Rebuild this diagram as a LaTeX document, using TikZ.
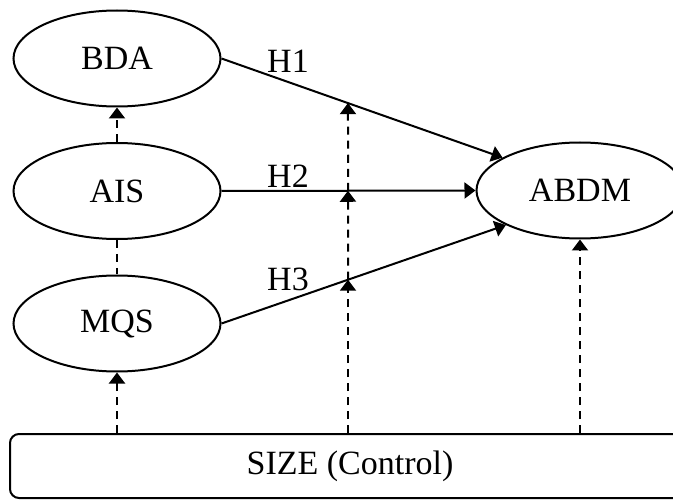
\documentclass[tikz,border=0pt]{standalone}
\usepackage{fontspec}
\setmainfont{Liberation Serif}
\usetikzlibrary{arrows.meta,shapes.geometric,intersections,calc}
\begin{document}
\begin{tikzpicture}[x=1pt,y=-1pt,
  every node/.style={font=\fontsize{34}{40}\selectfont},
  var/.style={draw,ellipse,line width=2pt,inner sep=0pt,minimum width=207pt,minimum height=96pt},
  ctrl/.style={draw,rectangle,rounded corners=9pt,line width=2pt,minimum width=680pt,minimum height=64pt,inner sep=0pt},
  solidarrow/.style={line width=2pt,-{Triangle[length=11pt,width=16pt]}},
  dasharrow/.style={line width=2pt,dash pattern=on 8pt off 6pt,-{Triangle[length=11pt,width=16pt]}},
  dashline/.style={line width=2pt,dash pattern=on 8pt off 6pt},
  hlabel/.style={inner sep=0pt}]
\clip (0,0) rectangle (673,500);
\node[var] (BDA) at (117,58.5) {BDA};
\node[var] (AIS) at (117,191) {AIS};
\node[var] (MQS) at (117,323.5) {MQS};
\node[var] (ABDM) at (580,190.5) {ABDM};
\node[ctrl] (SIZE) at (350,466) {SIZE (Control)};

\draw[solidarrow,name path=h1] (BDA.east) -- (ABDM.157);
\draw[solidarrow,name path=h2] (AIS.east) -- (ABDM.west);
\draw[solidarrow,name path=h3] (MQS.east) -- (ABDM.205);

\node[hlabel] (L1) at (288,61) {H1};
\node[hlabel] (L2) at (288,176) {H2};
\node[hlabel] (L3) at (288,279) {H3};

\path[name path=vline] (348,0) -- (348,500);
\path[name intersections={of=h1 and vline,by=i1}];
\path[name intersections={of=h2 and vline,by=i2}];
\path[name intersections={of=h3 and vline,by=i3}];
\coordinate (s1) at (SIZE.north -| MQS.south);
\coordinate (s2) at (SIZE.north -| i3);
\coordinate (s3) at (SIZE.north -| ABDM.south);

\draw[dasharrow] (AIS.north) -- (BDA.south);
\draw[dashline] (AIS.south) -- (MQS.north);
\draw[dasharrow] (s1) -- (MQS.south);
\draw[dasharrow] (s2) -- (i3);
\draw[dasharrow] (i3) -- (i2);
\draw[dasharrow] (i2) -- (i1);
\draw[dasharrow] (s3) -- (ABDM.south);
\end{tikzpicture}
\end{document}
